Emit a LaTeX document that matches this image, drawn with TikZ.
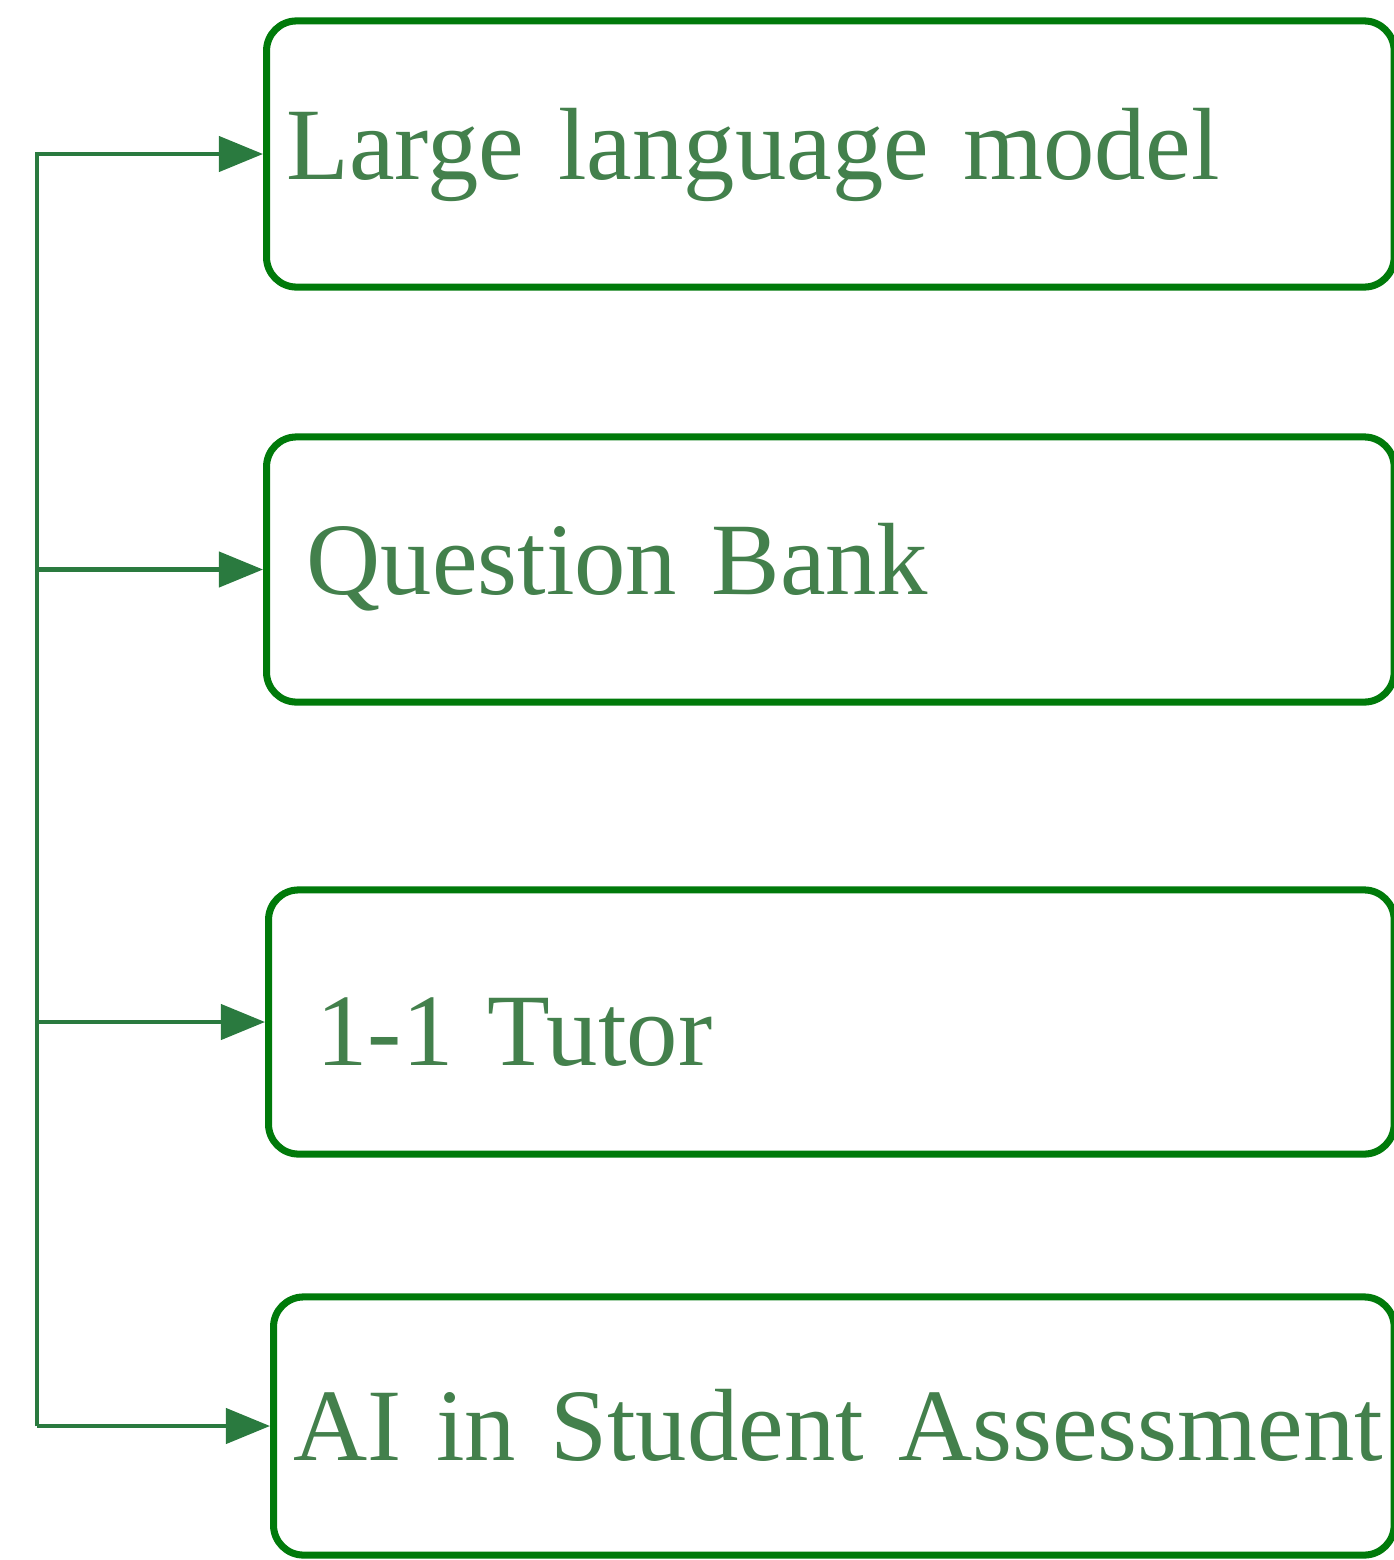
\documentclass[tikz,border=0pt]{standalone}
\usepackage{fontspec}
\setmainfont{Liberation Serif}
\usepackage{tikz}
\usetikzlibrary{arrows.meta}
\definecolor{boxgreen}{RGB}{0,122,10}
\definecolor{textgreen}{RGB}{67,128,76}
\definecolor{linkgreen}{RGB}{42,122,63}
\tikzset{
    box/.style = {draw=boxgreen, line width=2pt, rounded corners=0.3cm, anchor=west,
        inner xsep=0.2cm, align=left, text=textgreen,
        font=\fontsize{29.2}{36}\selectfont, text depth=0.25cm},
    link/.style = {draw=linkgreen, line width=1.2pt, -{Triangle[length=0.44cm, width=0.35cm]}}
}
\newcommand{\drawB}[7][0.75cm]{
    \node[box, minimum width=#5, text width=#5-0.4cm, minimum height=#6, text height=#1] (#2) at (#3,#4) {\mbox{#7}};
}
\newcommand{\drawA}[1]{
    \draw[link] (spine) |- (#1.west);
}
\begin{document}
\begin{tikzpicture}[x=0.01cm, y=-0.01cm]
    \useasboundingbox (0,0) rectangle (1394,1560);
    %Boxes
        \drawB{llm}{263}{154}{11.27cm}{2.66cm}{Large language model}
        \drawB{bank}{263}{569.5}{11.27cm}{2.65cm}{\hspace*{0.2cm}Question Bank}
        \drawB[1.11cm]{tutor}{265}{1022}{11.25cm}{2.64cm}{\hspace*{0.28cm}1-1 Tutor}
        \drawB[0.93cm]{assess}{270}{1426}{11.2cm}{2.58cm}{AI in Student Assessment}

    % Arrows
        \coordinate (spine) at (37,1426);
        \drawA{llm}
        \drawA{bank}
        \drawA{tutor}
        \drawA{assess}
\end{tikzpicture}
\end{document}
